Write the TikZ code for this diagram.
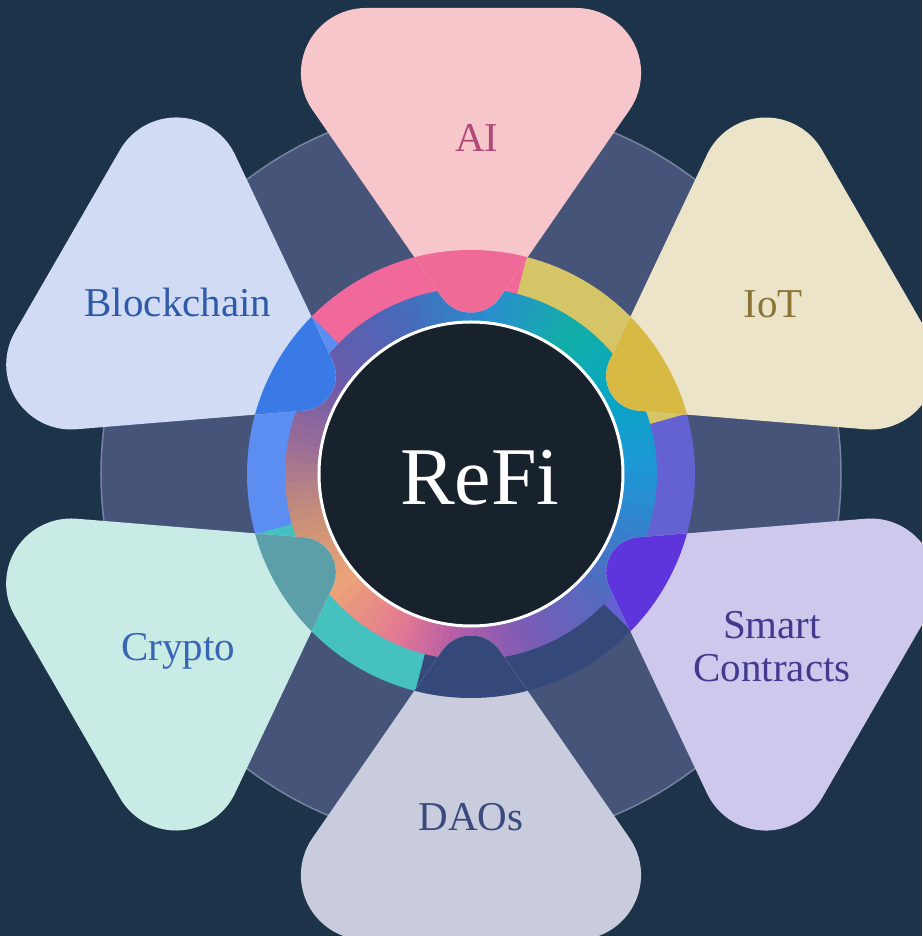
\documentclass[tikz,border=0pt]{standalone}
\usepackage{fontspec}
\setmainfont{Liberation Serif}
\usepackage{xcolor}
\usepackage{tikz}

\definecolor{bgnavy}{HTML}{1D334A}
\definecolor{slate}{HTML}{465479}
\definecolor{slaterim}{HTML}{76849E}
\definecolor{hubdark}{HTML}{18222C}
% ring segments
\definecolor{segpink}{HTML}{F0699A}
\definecolor{segyellow}{HTML}{D5C566}
\definecolor{segpurple}{HTML}{6462D2}
\definecolor{segnavy}{HTML}{34497A}
\definecolor{segteal}{HTML}{45C1C0}
\definecolor{segblue}{HTML}{5B8EF0}
% petal tips
\definecolor{tippink}{HTML}{F06A98}
\definecolor{tipyellow}{HTML}{D7B944}
\definecolor{tippurple}{HTML}{5E35DC}
\definecolor{tipnavy}{HTML}{34497A}
\definecolor{tipteal}{HTML}{5C9FA8}
\definecolor{tipblue}{HTML}{3A7AE6}
% petals
\definecolor{softpink}{HTML}{F7C6CA}
\definecolor{softyellow}{HTML}{ECE4C8}
\definecolor{softpurple}{HTML}{CEC9EC}
\definecolor{softnavy}{HTML}{C9CCDD}
\definecolor{softteal}{HTML}{C9EBE6}
\definecolor{softblue}{HTML}{D1DCF4}
% labels
\definecolor{txtai}{HTML}{B0487A}
\definecolor{txtiot}{HTML}{8C7336}
\definecolor{txtsmart}{HTML}{433A90}
\definecolor{txtdaos}{HTML}{3B4A7E}
\definecolor{txtcrypto}{HTML}{3866B4}
\definecolor{txtchain}{HTML}{2E5AA8}
% inner band
\definecolor{gA}{HTML}{1E96D6}
\definecolor{gB}{HTML}{08A6C4}
\definecolor{gC}{HTML}{12AEA6}
\definecolor{gD}{HTML}{2A8CD0}
\definecolor{gE}{HTML}{4A68B8}
\definecolor{gF}{HTML}{6A5AA8}
\definecolor{gG}{HTML}{9A6C98}
\definecolor{gH}{HTML}{C89078}
\definecolor{gI}{HTML}{EBA477}
\definecolor{gJ}{HTML}{E47A92}
\definecolor{gK}{HTML}{B45CA8}
\definecolor{gL}{HTML}{7A5CB6}
\definecolor{gM}{HTML}{4E6CC0}

% rounded triangle, pointing down to the origin
\newcommand{\petalpath}{(-105.1,466) -- (105.1,466)
    arc[start angle=90, end angle=-34.7, radius=65] -- (28.77,176.57)
    arc[start angle=-34.7, end angle=-145.3, radius=35] -- (-158.5,364.0)
    arc[start angle=214.7, end angle=90, radius=65] -- cycle}

\begin{document}
\begin{tikzpicture}[
    x=1pt, y=1pt,
    tag/.style={
        font=\fontsize{41}{43}\selectfont,
        align=center, anchor=base
    },
    hub/.style={
        draw=white, line width=3pt, fill=hubdark
    },
    title/.style={
        text=white, anchor=base,
        font=\fontsize{82}{90}\selectfont
    }
]
\useasboundingbox (-471,-462) rectangle (451,474);
\fill[bgnavy] (-471,-462) rectangle (451,474);

% big disc
\fill[slate, draw=slaterim, line width=1.5pt] (0,0) circle (370);

% inner colour band
\foreach \aa/\ab/\ca/\cb in {0/30/gA/gB, 30/55/gB/gC, 55/85/gC/gD, 85/115/gD/gE,
    115/145/gE/gF, 145/170/gF/gG, 170/195/gG/gH, 195/220/gH/gI, 220/245/gI/gJ,
    245/265/gJ/gK, 265/290/gK/gL, 290/320/gL/gM, 320/360/gM/gA}{
  \foreach \k in {0,...,7}{
    \pgfmathsetmacro\ta{\aa+(\ab-\aa)*\k/8}
    \pgfmathsetmacro\tb{\aa+(\ab-\aa)*(\k+1)/8+0.4}
    \pgfmathtruncatemacro\pc{100-(\k+0.5)*100/8}
    \fill[\ca!\pc!\cb] (\ta:187) arc[start angle=\ta, end angle=\tb, radius=187]
      -- (\tb:150) arc[start angle=\tb, end angle=\ta, radius=150] -- cycle;
  }
}

% ring segments
\foreach \ang/\seg in {90/segpink, 30/segyellow, -30/segpurple,
    -90/segnavy, 210/segteal, 150/segblue}{
  \fill[\seg] (\ang-14.6:224) arc[start angle=\ang-14.6, end angle=\ang+45.6, radius=224]
    -- (\ang+45.6:186) arc[start angle=\ang+45.6, end angle=\ang-14.6, radius=186] -- cycle;
}

% petals
\foreach \ang/\soft in {90/softpink, 30/softyellow, -30/softpurple,
    -90/softnavy, 210/softteal, 150/softblue}{
  \fill[\soft, rotate=\ang-90] \petalpath;
}

% petal tips over the ring
\begin{scope}
  \clip (0,0) circle (224);
  \foreach \ang/\tip in {90/tippink, 30/tipyellow, -30/tippurple,
      -90/tipnavy, 210/tipteal, 150/tipblue}{
    \fill[\tip, rotate=\ang-90] \petalpath;
  }
\end{scope}

\filldraw[hub] (0,0) circle (152);
\node[title] (refi) at (9,-31) {ReFi};

\node[tag, text=txtai] (ai) at (6,322) {AI};
\node[tag, text=txtiot] (iot) at (302,156) {IoT};
\node[tag, text=txtsmart] (smart) at (301,-207) {Smart\\Contracts};
\node[tag, text=txtdaos] (daos) at (0,-356) {DAOs};
\node[tag, text=txtcrypto] (crypto) at (-293,-186) {Crypto};
\node[tag, text=txtchain] (chain) at (-293,157) {Blockchain};

\end{tikzpicture}
\end{document}
